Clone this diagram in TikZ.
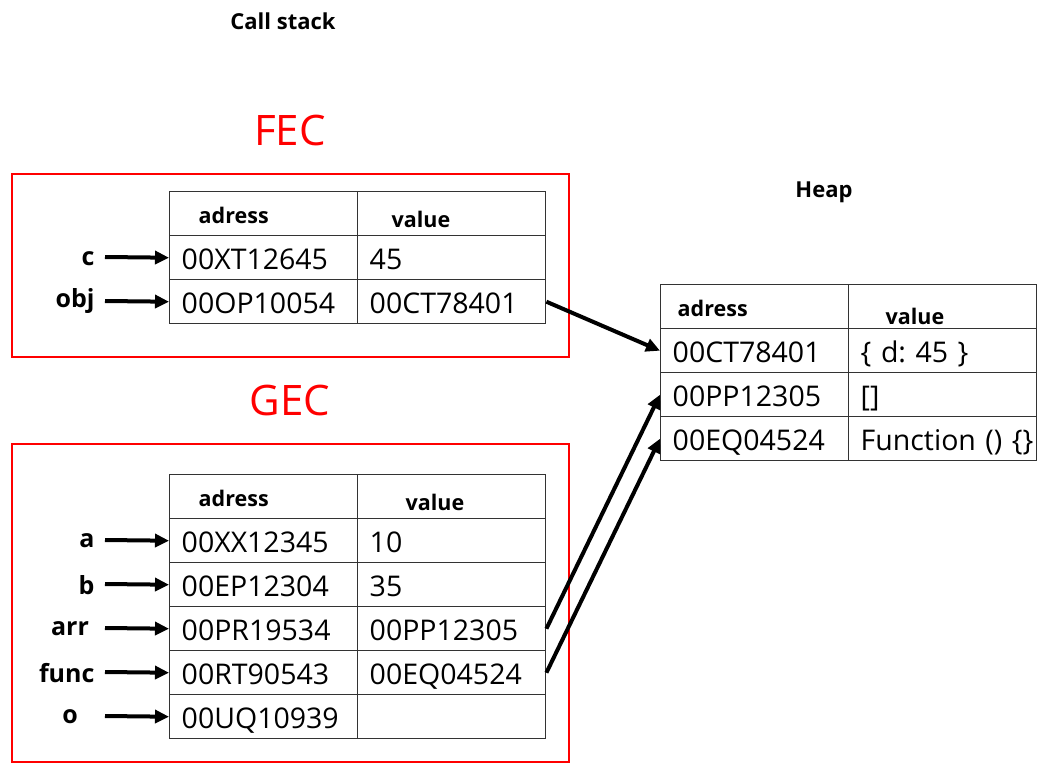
\documentclass[tikz,border=0pt]{standalone}
\usepackage{fontspec}
\setmainfont{Open Sans}
\usetikzlibrary{arrows.meta}

\begin{document}
\begin{tikzpicture}[x=1pt,y=-1pt]
        \tikzset{
            cell/.style={draw=black!80, line width=1.4pt, anchor=north west,
                minimum height=44pt, text width=164pt, inner xsep=12pt, inner ysep=0pt,
                text height=26pt, text depth=2pt, align=left,
                font=\fontsize{28.5}{33}\selectfont},
            hcell/.style={cell, font=\bfseries\fontsize{21.5}{25}\selectfont},
            frame/.style={draw=red, line width=1.6pt},
            title/.style={font=\bfseries\fontsize{22}{26}\selectfont},
            ctx/.style={text=red, font=\fontsize{42}{48}\selectfont},
            var/.style={font=\bfseries\fontsize{25}{29}\selectfont},
            ptr/.style={line width=4pt, -{Triangle[length=14pt,width=13pt]}},
        }
        \newcommand{\MemRow}[5]{% name, x, y, address, value
            \node[cell] (#1-addr) at (#2,#3) {#4};
            \node[cell] (#1-val) at (#2+188,#3) {#5};
        }

        \useasboundingbox (0,0) rectangle (1044,771);

        \node[title] (stack-title) at (283,21) {Call stack};
        \node[title] (heap-title) at (824,192) {Heap};

        % function execution context
        \node[ctx] (fec-title) at (290,130) {FEC};
        \draw[frame] (12,174) rectangle (569,357);
        \node[hcell] (fec-h-addr) at (169,191) {\hspace*{17pt}\raisebox{2pt}{adress}};
        \node[hcell] (fec-h-val) at (357,191) {\hspace*{22pt}\raisebox{-2pt}{value}};
        \MemRow{fec-c}{169}{235}{00XT12645}{45}
        \MemRow{fec-obj}{169}{279}{00OP10054}{00CT78401}
        \node[var, anchor=east] (c-name) at (98,259) {c};
        \node[var, anchor=east] (obj-name) at (98,301) {obj};
        \coordinate (fec-c-tail) at (105,257);
        \coordinate (fec-obj-tail) at (105,301);
        \draw[ptr] (fec-c-tail) -- (fec-c-addr.west);
        \draw[ptr] (fec-obj-tail) -- (fec-obj-addr.west);

        % global execution context
        \node[ctx] (gec-title) at (290,400) {GEC};
        \draw[frame] (12,444) rectangle (569,762);
        \node[hcell] (gec-h-addr) at (169,474) {\hspace*{17pt}\raisebox{2pt}{adress}};
        \node[hcell] (gec-h-val) at (357,474) {\hspace*{36pt}\raisebox{-2pt}{value}};
        \foreach \id/\row/\addr/\val in {a/0/00XX12345/10, b/1/00EP12304/35,
                arr/2/00PR19534/00PP12305, func/3/00RT90543/00EQ04524, o/4/00UQ10939/{}} {
            \MemRow{gec-\id}{169}{518+44*\row}{\addr}{\val}
            \coordinate (gec-\id-tail) at (105,540+44*\row);
            \draw[ptr] (gec-\id-tail) -- (gec-\id-addr.west);
        }
        \node[var, anchor=east] (a-name) at (98,541) {a};
        \node[var, anchor=east] (b-name) at (98,585) {b};
        \node[var] (arr-name) at (70,629) {arr};
        \node[var, anchor=east] (func-name) at (98,673) {func};
        \node[var] (o-name) at (70,717) {o};

        % heap
        \node[hcell] (heap-h-addr) at (660,284) {\hspace*{5pt}\raisebox{2pt}{adress}};
        \node[hcell] (heap-h-val) at (848,284) {\hspace*{25pt}\raisebox{-6pt}{value}};
        \MemRow{heap-ct}{660}{328}{00CT78401}{\{ d:\ 45 \}}
        \MemRow{heap-pp}{660}{372}{00PP12305}{[]}
        \MemRow{heap-eq}{660}{416}{00EQ04524}{\mbox{Function () \{\}}}

        \draw[ptr] (fec-obj-val.east) -- (heap-ct-addr.west);
        \draw[ptr] (gec-arr-val.east) -- (heap-pp-addr.west);
        \draw[ptr] (gec-func-val.east) -- (heap-eq-addr.west);
    \end{tikzpicture}
\end{document}
